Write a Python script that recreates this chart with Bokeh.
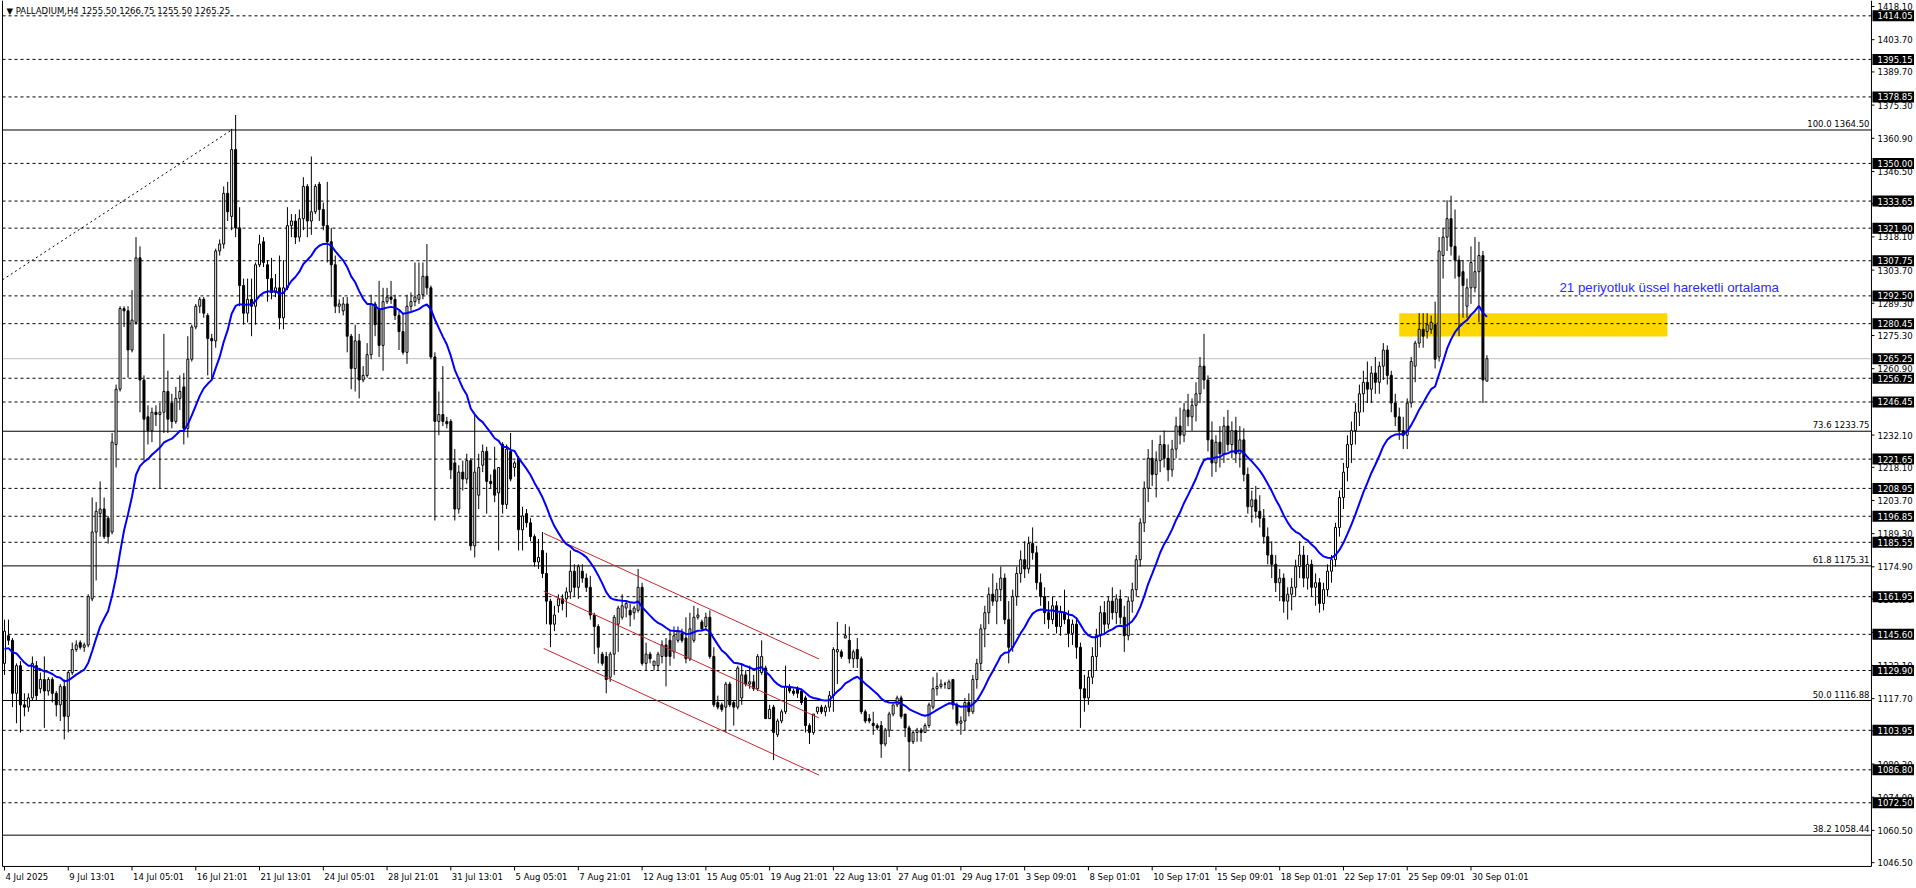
import numpy as np
from bokeh.plotting import figure
from bokeh.models import Range1d
from bokeh.core.properties import value
from bokeh.embed import file_html
from bokeh.resources import INLINE

# ---------------- data ----------------
opens = [
 1133,1145,1143,1120,1132,1115,1114,1118,1132,1122,1126,1121,1126,1120,1115,1123,1110,1129,1139,1142,
 1140,1141,1161,1190,1198,1200,1196,1190,1228,1252,1287,1286,1269,1281,1309,1256,1240,1234,1242,1241,
 1242,1251,1246,1238,1248,1253,1235,1265,1279,1288,1291,1284,1274,1273,1312,1315,1337,1327,1356,1322,
 1297,1285,1291,1288,1306,1316,1306,1300,1294,1296,1283,1296,1323,1325,1318,1326,1340,1325,1329,1341,
 1330,1323,1316,1306,1288,1286,1289,1275,1261,1273,1256,1258,1267,1289,1287,1271,1290,1292,1291,1284,
 1277,1268,1288,1290,1291,1293,1301,1296,1266,1238,1241,1238,1238,1220,1200,1216,1213,1221,1184,1206,
 1219,1225,1212,1217,1207,1228,1202,1225,1218,1222,1191,1198,1194,1188,1177,1182,1172,1160,1150,1158,
 1161,1161,1164,1173,1166,1173,1170,1166,1154,1149,1137,1136,1127,1137,1150,1153,1157,1156,1155,1156,
 1166,1133,1137,1132,1132,1136,1141,1143,1138,1143,1146,1144,1135,1143,1153,1151,1149,1153,1136,1116,
 1115,1114,1124,1116,1114,1118,1128,1124,1125,1122,1129,1131,1109,1114,1102,1108,1112,1123,1121,1122,
 1121,1118,1106,1103,1112,1114,1112,1114,1119,1138,1138,1144,1143,1135,1139,1135,1112,1109,1107,1106,
 1106,1098,1104,1111,1115,1118,1111,1105,1099,1103,1104,1103,1106,1114,1122,1123,1124,1122,1126,1115,
 1107,1108,1116,1112,1126,1133,1148,1155,1163,1160,1165,1170,1152,1140,1162,1172,1178,1174,1185,1181,
 1168,1162,1155,1152,1158,1149,1155,1152,1146,1150,1140,1122,1118,1127,1136,1145,1155,1150,1160,1155,
 1161,1153,1145,1160,1165,1178,1194,1209,1222,1215,1221,1228,1222,1217,1226,1236,1232,1243,1240,1245,
 1250,1262,1256,1230,1220,1229,1224,1236,1228,1234,1224,1230,1215,1201,1204,1199,1196,1188,1180,1176,
 1168,1170,1160,1163,1166,1175,1180,1170,1176,1166,1168,1159,1165,1173,1178,1192,1205,1218,1228,1234,
 1242,1250,1255,1252,1259,1255,1262,1269,1258,1246,1240,1234,1232,1246,1262,1272,1278,1277,1278,1280,
 1266,1310,1318,1326,1314,1308,1303,1288,1296,1296,1303,1310,1255.5]
highs = [
 1152,1152,1144,1133,1134,1120,1120,1136,1134,1129,1136,1127,1127,1121,1124,1126,1130,1142,1143,1143,
 1142,1163,1205,1203,1212,1205,1197,1233,1254,1288,1288,1288,1295,1318,1314,1258,1245,1244,1245,1246,
 1276,1260,1250,1253,1258,1259,1275,1280,1289,1292,1292,1285,1276,1313,1317,1340,1342,1365,1371,1331,
 1300,1300,1300,1307,1319,1318,1308,1309,1302,1310,1308,1331,1328,1328,1330,1344,1341,1353,1341,1342,
 1333,1342,1322,1310,1291,1292,1292,1276,1280,1276,1262,1272,1293,1290,1299,1296,1296,1299,1293,1286,
 1285,1293,1294,1307,1307,1307,1315,1297,1268,1251,1262,1240,1239,1226,1219,1221,1224,1222,1241,1224,
 1228,1227,1215,1227,1218,1229,1228,1233,1221,1223,1201,1200,1196,1189,1187,1190,1181,1161,1158,1163,
 1163,1166,1182,1176,1176,1176,1172,1171,1155,1150,1138,1138,1138,1154,1158,1163,1160,1159,1158,1174,
 1168,1142,1138,1134,1138,1143,1144,1147,1149,1149,1148,1153,1155,1158,1157,1152,1155,1156,1140,1119,
 1116,1125,1125,1117,1132,1133,1130,1132,1128,1137,1143,1132,1115,1115,1109,1113,1132,1124,1122,1123,
 1122,1119,1107,1111,1114,1115,1115,1121,1140,1151,1139,1150,1149,1139,1144,1136,1113,1111,1112,1107,
 1108,1105,1112,1115,1119,1119,1111,1106,1104,1105,1105,1107,1116,1127,1129,1126,1125,1126,1126,1116,
 1110,1118,1120,1128,1135,1150,1158,1166,1172,1168,1175,1172,1160,1165,1175,1182,1186,1188,1192,1184,
 1172,1166,1160,1162,1160,1158,1165,1156,1152,1153,1142,1128,1130,1140,1148,1158,1160,1162,1166,1163,
 1165,1158,1162,1168,1180,1196,1212,1226,1230,1225,1232,1234,1228,1230,1240,1244,1246,1250,1248,1255,
 1266,1276,1258,1238,1232,1236,1240,1243,1238,1240,1236,1235,1218,1208,1210,1206,1200,1192,1186,1180,
 1174,1172,1166,1170,1178,1186,1184,1180,1178,1172,1170,1168,1176,1180,1194,1208,1220,1232,1238,1246,
 1254,1260,1264,1262,1266,1264,1272,1271,1260,1250,1244,1240,1248,1266,1273,1285,1285,1285,1284,1290,
 1318,1322,1334,1336,1330,1310,1308,1300,1314,1318,1316,1312,1266.75]
lows = [
 1128,1141,1114,1107,1103,1110,1112,1117,1117,1120,1105,1119,1116,1110,1108,1100,1103,1128,1138,1139,
 1138,1140,1160,1169,1188,1187,1185,1189,1218,1251,1279,1257,1268,1280,1242,1221,1228,1229,1236,1209,
 1233,1233,1235,1237,1243,1228,1231,1264,1278,1285,1283,1258,1256,1270,1310,1313,1325,1321,1318,1288,
 1280,1281,1275,1280,1305,1305,1290,1291,1292,1278,1278,1295,1318,1315,1316,1321,1318,1319,1328,1325,
 1321,1307,1292,1285,1285,1284,1268,1252,1251,1248,1255,1257,1265,1275,1266,1260,1289,1289,1282,1269,
 1267,1263,1286,1288,1289,1291,1293,1265,1195,1232,1236,1235,1213,1195,1198,1208,1211,1182,1179,1200,
 1216,1198,1209,1203,1182,1198,1200,1212,1214,1182,1182,1192,1186,1175,1174,1170,1150,1140,1147,1155,
 1156,1153,1161,1162,1161,1168,1164,1152,1137,1133,1132,1120,1125,1128,1138,1152,1153,1149,1152,1155,
 1132,1130,1133,1130,1130,1133,1123,1132,1135,1142,1142,1133,1134,1142,1152,1147,1148,1135,1114,1113,
 1112,1103,1114,1106,1113,1115,1123,1122,1121,1121,1128,1109,1109,1091,1101,1107,1111,1120,1119,1118,
 1115,1103,1098,1102,1111,1111,1110,1112,1112,1124,1135,1144,1133,1131,1131,1111,1107,1107,1102,1104,
 1092,1097,1101,1110,1114,1109,1101,1086,1098,1099,1099,1103,1105,1113,1119,1122,1122,1122,1113,1106,
 1102,1104,1110,1111,1122,1130,1140,1150,1158,1150,1160,1150,1133,1138,1158,1168,1170,1172,1178,1165,
 1158,1150,1148,1150,1146,1145,1150,1140,1141,1135,1105,1112,1115,1124,1130,1140,1146,1148,1152,1150,
 1150,1138,1143,1155,1162,1175,1190,1203,1210,1205,1216,1218,1212,1214,1222,1228,1229,1236,1234,1238,
 1246,1252,1225,1214,1216,1218,1220,1225,1222,1220,1218,1212,1198,1194,1196,1192,1185,1176,1170,1164,
 1160,1155,1152,1156,1162,1170,1166,1165,1162,1158,1155,1156,1162,1168,1175,1188,1200,1212,1220,1228,
 1236,1242,1246,1246,1250,1250,1256,1254,1242,1236,1230,1226,1226,1244,1255,1270,1270,1274,1276,1261,
 1264,1300,1312,1310,1300,1275,1283,1283,1289,1294,1281,1246,1255.5]
closes = [
 1147,1143,1120,1132,1115,1114,1118,1133,1119,1126,1121,1126,1120,1115,1123,1110,1129,1139,1141,1140,
 1141,1162,1190,1199,1200,1188,1188,1229,1252,1287,1286,1269,1282,1309,1256,1239,1234,1242,1241,1242,
 1251,1239,1238,1248,1251,1235,1265,1279,1288,1291,1285,1274,1273,1312,1315,1337,1329,1356,1322,1297,
 1285,1291,1288,1306,1315,1307,1300,1294,1296,1283,1296,1323,1325,1318,1326,1340,1325,1329,1340,1330,
 1323,1316,1306,1288,1289,1289,1275,1261,1273,1256,1258,1267,1289,1280,1271,1290,1292,1291,1284,1277,
 1268,1288,1290,1292,1293,1301,1296,1266,1238,1241,1238,1237,1217,1200,1216,1213,1221,1184,1216,1218,
 1225,1212,1211,1206,1218,1202,1226,1213,1220,1191,1197,1194,1188,1177,1179,1172,1160,1150,1154,1161,
 1159,1164,1173,1166,1175,1170,1166,1154,1149,1140,1133,1126,1137,1153,1157,1158,1159,1154,1157,1166,
 1133,1137,1135,1134,1137,1141,1136,1136,1145,1147,1143,1135,1148,1153,1154,1148,1153,1136,1115,1114,
 1113,1124,1115,1114,1131,1128,1124,1125,1122,1136,1136,1109,1113,1103,1108,1112,1123,1121,1120,1120,
 1116,1106,1103,1111,1114,1112,1114,1119,1139,1139,1136,1145,1135,1138,1135,1112,1108,1108,1106,1105,
 1098,1104,1111,1115,1118,1110,1105,1099,1103,1104,1103,1106,1115,1122,1123,1124,1124,1125,1115,1107,
 1108,1116,1112,1126,1133,1148,1155,1163,1160,1165,1170,1152,1140,1162,1172,1178,1174,1185,1181,1168,
 1162,1155,1152,1158,1149,1155,1152,1146,1150,1140,1122,1118,1127,1136,1145,1155,1150,1160,1155,1161,
 1153,1145,1160,1165,1178,1194,1209,1222,1215,1221,1228,1222,1217,1226,1236,1232,1243,1240,1245,1250,
 1262,1256,1230,1220,1229,1224,1236,1228,1234,1224,1230,1215,1201,1204,1199,1196,1188,1180,1176,1168,
 1170,1160,1163,1166,1175,1180,1170,1176,1166,1168,1159,1165,1173,1178,1192,1205,1216,1228,1234,1242,
 1250,1255,1252,1259,1255,1262,1269,1258,1246,1240,1234,1232,1246,1264,1272,1278,1275,1280,1281,1265,
 1312,1318,1326,1314,1308,1301,1297,1296,1307,1303,1310,1256,1265.25]

ema_period = 21
ema_seed = 1138.5

time_labels = ["4 Jul 2025", "9 Jul 13:01", "14 Jul 05:01", "16 Jul 21:01", "21 Jul 13:01",
               "24 Jul 05:01", "28 Jul 21:01", "31 Jul 13:01", "5 Aug 05:01", "7 Aug 21:01",
               "12 Aug 13:01", "15 Aug 05:01", "19 Aug 21:01", "22 Aug 13:01", "27 Aug 01:01",
               "29 Aug 17:01", "3 Sep 09:01", "8 Sep 01:01", "10 Sep 17:01", "15 Sep 09:01",
               "18 Sep 01:01", "22 Sep 17:01", "25 Sep 09:01", "30 Sep 01:01"]
bars_per_label = 16

price_ticks = [1418.10, 1403.70, 1389.70, 1375.30, 1360.90, 1346.50, 1332.50, 1318.10, 1303.70,
               1289.30, 1275.30, 1260.90, 1246.50, 1232.10, 1218.10, 1203.70, 1189.30, 1174.90,
               1160.90, 1146.50, 1132.10, 1117.70, 1103.70, 1089.30, 1074.90, 1060.50, 1046.50]

hlines = [1414.05, 1395.15, 1378.85, 1350.00, 1333.65, 1321.90, 1307.75, 1292.50, 1280.45,
          1256.75, 1246.45, 1221.65, 1208.95, 1196.85, 1185.55, 1161.95, 1145.60, 1129.90,
          1103.95, 1086.80, 1072.50]
bid_price = 1265.25

fibo_levels = [100.0, 73.6, 61.8, 50.0, 38.2]
fibo_prices = [1364.50, 1233.75, 1175.31, 1116.88, 1058.44]

title_text = "\u25bc PALLADIUM,H4  1255.50 1266.75 1255.50 1265.25"
note_text = "21 periyotluk \u00fcssel hareketli ortalama"

chan_x = [135.3, 204.4]
chan_upper = [1189.5, 1134.9]
chan_mid = [1164.3, 1109.3]
chan_lower = [1139.5, 1084.5]

fib_line_x = [-0.5, 57.0]
fib_line_y = [1299.5, 1364.5]

zone_x = [350.0, 417.3]
zone_y = [1274.9, 1285.0]

# ---------------- build ----------------
N = min(len(opens), len(highs), len(lows), len(closes))
o = np.array(opens[:N], float)
h = np.array(highs[:N], float)
l = np.array(lows[:N], float)
c = np.array(closes[:N], float)
h = np.maximum(h, np.maximum(o, c))
l = np.minimum(l, np.minimum(o, c))
x = np.arange(N)

k = 2.0 / (ema_period + 1)
ema = np.empty(N)
prev = ema_seed
for i in range(N):
    prev = prev + k * (c[i] - prev)
    ema[i] = prev

# page geometry (figure sits at the page origin)
W, H = 1914, 886
px_x = 3.985                 # pixels per bar
px_y = 2.304                 # pixels per price unit
X0 = -4.0 / px_x             # page x = 0
XL = -0.5                    # left border of chart
XA = 468.5                   # price axis line
X1 = X0 + W / px_x
Y1 = 1418.1 + 6.0 / px_y     # page y = 0
YA = 1044.85                 # time axis line
Y0 = Y1 - H / px_y

FONT = value("DejaVu Sans")
FS = value("8.5px")

p = figure(width=W, height=H, x_range=Range1d(X0, X1), y_range=Range1d(Y0, Y1),
           output_backend="svg", toolbar_location=None,
           x_axis_location=None, y_axis_location=None,
           min_border=0, min_border_left=0, min_border_right=0, min_border_top=0, min_border_bottom=0)
p.grid.visible = False
p.outline_line_color = None
p.background_fill_color = "white"
p.border_fill_color = "white"

# gold zone
p.quad(left=[zone_x[0]], right=[zone_x[1]], bottom=[zone_y[0]], top=[zone_y[1]],
       fill_color="#ffd700", line_color=None)

# horizontal lines
n_h = len(hlines)
p.segment(x0=[XL] * n_h, y0=hlines, x1=[XA] * n_h, y1=hlines,
          line_color="black", line_width=1, line_dash="3 3")
p.segment(x0=[XL], y0=[bid_price], x1=[XA], y1=[bid_price], line_color="#c0c0c0", line_width=1)
n_f = len(fibo_prices)
p.segment(x0=[XL] * n_f, y0=fibo_prices, x1=[XA] * n_f, y1=fibo_prices,
          line_color="black", line_width=1)

# fibo trend line (dotted)
p.line(fib_line_x, fib_line_y, line_color="black", line_width=1, line_dash="2 3")

# candles
up = c >= o
p.segment(x0=x, y0=h, x1=x, y1=l, line_color="black", line_width=1)
p.vbar(x=x, width=0.5, top=np.maximum(o, c), bottom=np.minimum(o, c),
       fill_color=["white" if u else "black" for u in up], line_color="black", line_width=1)

# channel
for ys in (chan_upper, chan_mid, chan_lower):
    p.line(chan_x, ys, line_color="#c8282d", line_width=1)

# EMA
p.line(x, ema, line_color="#0000ff", line_width=2)

# frame: left border, axis lines
p.segment(x0=[XL, XL, XA], y0=[Y1, YA, Y1], x1=[XL, XA, XA], y1=[YA, YA, YA],
          line_color="black", line_width=1)

# price axis ticks + labels
nt = len(price_ticks)
p.segment(x0=[XA] * nt, y0=price_ticks, x1=[XA + 3 / px_x] * nt, y1=price_ticks,
          line_color="black", line_width=1)
p.text(x=[XA + 6 / px_x] * nt, y=price_ticks, text=[f"{v:.2f}" for v in price_ticks],
       text_font=FONT, text_font_size=FS, text_color="black",
       text_baseline="middle", text_align="left")

# price tags
tags = hlines + [bid_price]
ntg = len(tags)
p.quad(left=[XA + 1 / px_x] * ntg, right=[X1] * ntg,
       bottom=[v - 5.5 / px_y for v in tags], top=[v + 5.5 / px_y for v in tags],
       fill_color="black", line_color=None)
p.text(x=[XA + 6 / px_x] * ntg, y=tags, text=[f"{v:.2f}" for v in tags],
       text_font=FONT, text_font_size=FS, text_color="white",
       text_baseline="middle", text_align="left")

# time axis ticks + labels
tx = [bars_per_label * j for j in range(len(time_labels))]
p.segment(x0=tx, y0=[YA] * len(tx), x1=tx, y1=[YA - 4 / px_y] * len(tx),
          line_color="black", line_width=1)
p.text(x=[t + 1 / px_x for t in tx], y=[YA - 6 / px_y] * len(tx), text=time_labels,
       text_font=FONT, text_font_size=FS, text_color="black",
       text_baseline="top", text_align="left")

# fibo labels
p.text(x=[XA - 2 / px_x] * n_f, y=[v + 1 / px_y for v in fibo_prices],
       text=[f"{lv:.1f} {pr:.2f}" for lv, pr in zip(fibo_levels, fibo_prices)],
       text_font=FONT, text_font_size=FS, text_color="black",
       text_baseline="bottom", text_align="right")

# title
p.text(x=[X0 + 6 / px_x], y=[Y1 - 5 / px_y], text=[title_text],
       text_font=FONT, text_font_size=FS, text_color="black",
       text_baseline="top", text_align="left")

# note
p.text(x=[390.2], y=[1296.0], text=[note_text], text_font=value("Liberation Sans"),
       text_font_size=value("13.3px"), text_color="#2a2aff",
       text_baseline="alphabetic", text_align="left")

open("out.html", "w").write(file_html(p, INLINE))
